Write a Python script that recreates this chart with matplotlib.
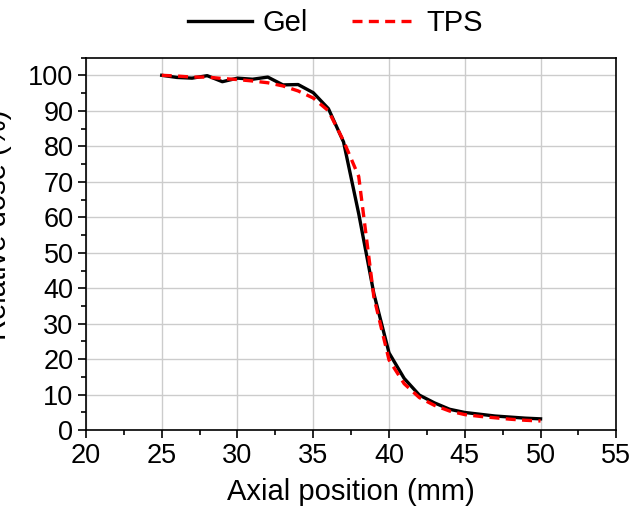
import matplotlib
matplotlib.use('Agg')
import matplotlib.pyplot as plt
from matplotlib.ticker import MultipleLocator

plt.rcParams['font.family'] = ['Liberation Sans', 'DejaVu Sans']

# Axial dose profile, gel measurement vs treatment planning system
position = [25, 26, 27, 28, 29, 30, 31, 32, 33, 34, 35, 36, 37,
            38, 39, 40, 41, 42, 43, 44, 45, 46, 47, 48, 49, 50]
gel = [100, 99.4, 99.2, 99.9, 98.2, 99.2, 98.9, 99.5, 97.3, 97.4, 95.1, 90.6, 81.2,
       61, 38.5, 21.8, 14.6, 9.9, 7.7, 5.9, 5.0, 4.5, 4.0, 3.7, 3.4, 3.2]
tps = [100, 99.8, 99.5, 99.5, 99.1, 98.8, 98.4, 97.9, 97.0, 95.6, 93.6, 90.0, 81.5,
       71.5, 37.5, 19.8, 13.1, 9.2, 7.0, 5.4, 4.4, 3.9, 3.5, 3.1, 2.8, 2.6]

fig = plt.figure(figsize=(6.44, 5.14), dpi=100)
ax = fig.add_axes([0.1335, 0.163, 0.8235, 0.725])

ax.plot(position, gel, color='black', lw=2.4, label='Gel', zorder=3)
ax.plot(position, tps, color='red', lw=2.4, dashes=(3.0, 1.9), label='TPS', zorder=4)

ax.set_xlim(20, 55)
ax.set_ylim(0, 105)
ax.xaxis.set_major_locator(MultipleLocator(5))
ax.xaxis.set_minor_locator(MultipleLocator(2.5))
ax.yaxis.set_major_locator(MultipleLocator(10))
ax.yaxis.set_minor_locator(MultipleLocator(5))
ax.tick_params(which='major', direction='out', length=6, width=1.2, labelsize=19.5, pad=3)
ax.tick_params(which='minor', direction='out', length=3.5, width=1.2)
for s in ax.spines.values():
    s.set_linewidth(1.2)

ax.grid(True, which='major', color='#cccccc', lw=1.0, zorder=0)
ax.set_axisbelow(True)

ax.set_xlabel('Axial position (mm)', fontsize=21, labelpad=7)
ax.set_ylabel('Relative dose (%)', fontsize=21)
ax.yaxis.set_label_coords(-0.14, 0.55)

ax.legend(loc='lower center', bbox_to_anchor=(0.47, 1.0), ncol=2, frameon=False,
          fontsize=21, handlelength=2.2, handletextpad=0.35, columnspacing=1.5,
          borderaxespad=0.3)

plt.savefig('out.png', dpi=100)
